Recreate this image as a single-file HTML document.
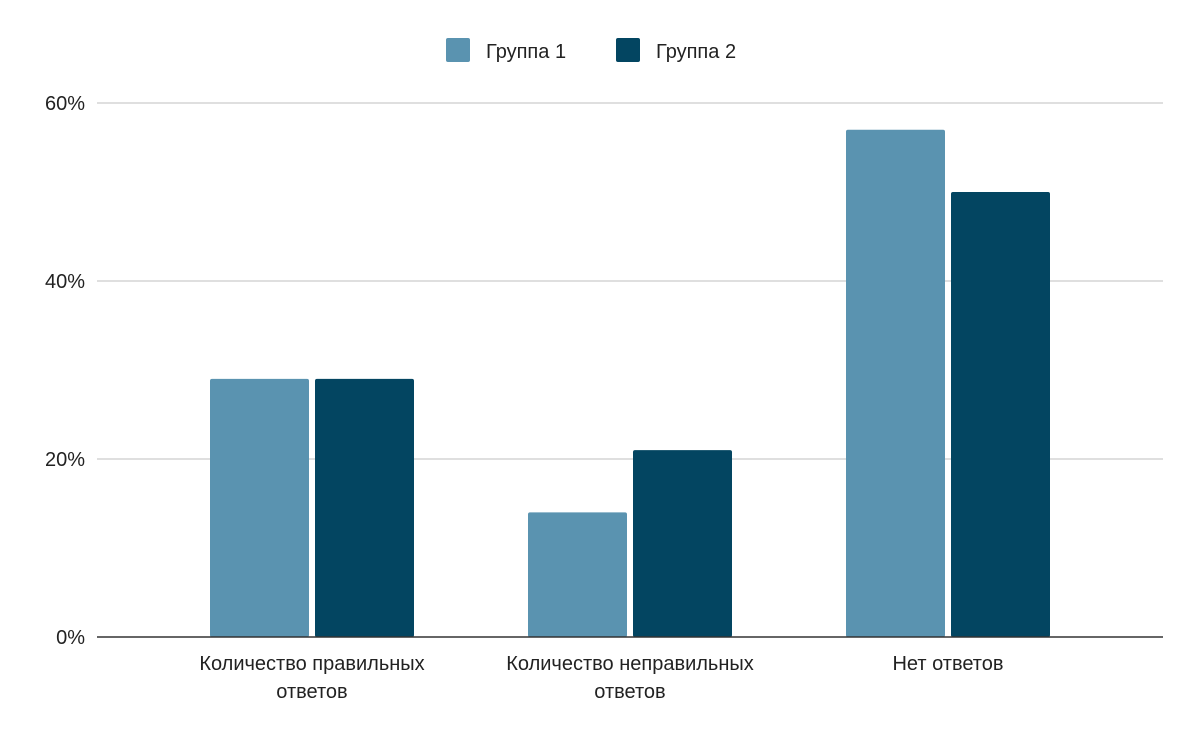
<!DOCTYPE html>
<html><head><meta charset="utf-8"><style>
body{margin:0;background:#fff;}
svg text{font-family:"Liberation Sans",sans-serif;fill:#222;}
</style></head><body>
<svg width="1200" height="742">
<g id="legend">
<rect x="446" y="38" width="24" height="24" rx="2" fill="#5a93b0"/>
<text x="486" y="58" font-size="20">Группа 1</text>
<rect x="616" y="38" width="24" height="24" rx="2" fill="#034561"/>
<text x="656" y="58" font-size="20">Группа 2</text>
</g>
<g id="grid"></g><g id="bars"></g><g id="xlabels"></g>
<line x1="97" x2="1163" y1="637" y2="637" stroke="#333" stroke-width="1.5"/>
</svg>
<script>
const categories=[["Количество правильных","ответов"],["Количество неправильных","ответов"],["Нет ответов"]];
const group1=[29,14,57];
const group2=[29,21,50];
const yTicks=[0,20,40,60];
const ns="http://www.w3.org/2000/svg";
function y(v){return 637-v*534/60;}
function cx(i){return 312+i*318;}
function mk(t,a,p){const e=document.createElementNS(ns,t);for(const k in a)e.setAttribute(k,a[k]);p.appendChild(e);return e;}
const grid=document.getElementById('grid');
yTicks.forEach(t=>{
 if(t>0){const l=mk('line',{x1:97,x2:1163,y1:y(t),y2:y(t),stroke:'#ccc','stroke-width':1.3},grid);
 
 }
 const tx=mk('text',{x:85,y:y(t)+7,'font-size':20,'text-anchor':'end'},grid);tx.textContent=t+'%';
 
 
});
const bars=document.getElementById('bars');
[[group1,'#5a93b0',-102],[group2,'#034561',3]].forEach(([s,c,off],si)=>{
 s.forEach((v,i)=>{
  const r=mk('rect',{x:cx(i)+off,y:y(v),width:99,height:637-y(v),fill:c,rx:2},bars);
  
  
 });
});
const xl=document.getElementById('xlabels');
categories.forEach((lines,i)=>{
 lines.forEach((ln,j)=>{
  const t=mk('text',{x:cx(i),y:670+j*28,'font-size':20,'text-anchor':'middle'},xl);t.textContent=ln;
  
  
 });
});
</script>
</body></html>
